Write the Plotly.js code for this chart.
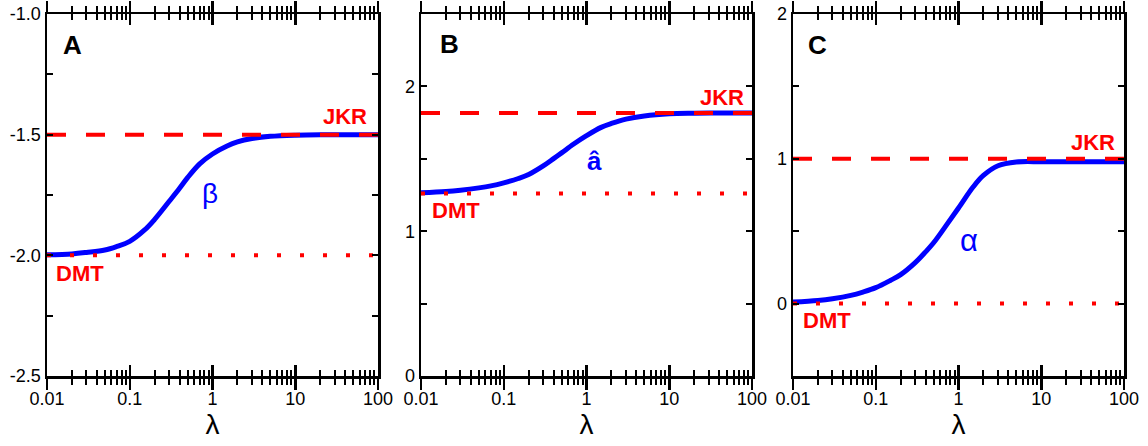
<!DOCTYPE html>
<html>
<head>
<meta charset="utf-8">
<script src="https://cdn.plot.ly/plotly-3.0.1.min.js"></script>
<style>
  html, body { margin: 0; padding: 0; background: #fff; }
  #chart { width: 1148px; height: 446px; }
</style>
</head>
<body>
<div id="chart"></div>
<script>
// Transition parameter lambda (log axis, shared by all three panels)
const lambda = [0.01, 0.02, 0.03, 0.05, 0.07, 0.1, 0.15, 0.2, 0.3, 0.4, 0.5, 0.7, 1, 1.5, 2, 3, 5, 10, 20, 50, 100];
const lambdaEnds = [0.01, 100];

// Panel A: beta
const beta = [-1.998, -1.994, -1.988, -1.978, -1.963, -1.942, -1.896, -1.851, -1.776, -1.722, -1.678, -1.621, -1.580, -1.547, -1.530, -1.516, -1.507, -1.502, -1.500, -1.500, -1.500];
// Panel B: a-hat
const aHat = [1.265, 1.274, 1.283, 1.299, 1.313, 1.334, 1.364, 1.392, 1.451, 1.501, 1.541, 1.602, 1.660, 1.717, 1.744, 1.774, 1.796, 1.811, 1.815, 1.817, 1.817];
// Panel C: alpha
const alpha = [0.011, 0.022, 0.034, 0.057, 0.080, 0.110, 0.160, 0.200, 0.283, 0.357, 0.420, 0.535, 0.660, 0.805, 0.885, 0.952, 0.978, 0.980, 0.980, 0.980, 0.980];

// Limiting values (JKR dashed, DMT dotted)
const jkrLimit = [-1.5, 1.817, 1.0];
const dmtLimit = [-2.0, 1.26, 0.0];

// y tick values and labels
const yTickVals = [[-2.5, -2.0, -1.5, -1.0], [0, 1, 2], [0, 1, 2]];
const yTickText = [['-2.5', '-2.0', '-1.5', '-1.0'], ['0', '1', '2'], ['0', '1', '2']];
const yRanges = [[-2.5, -1.0], [0, 2.5], [-0.5, 2]];
const yMinor = [0.25, 0.5, 0.5];

const panelLetters = ['A', 'B', 'C'];
const curveLabels = ['β', 'â', 'α'];
const curves = [beta, aHat, alpha];

const W = 1148, H = 446;
const px = x => x / W;
const py = y => 1 - y / H;

// plot-area pixel bounds for the three panels
const boxes = [[47, 378], [421, 752], [793, 1124]];
const plotTop = 14, plotBottom = 376;

const FONT = 'Arial, "Liberation Sans", sans-serif';
const BLUE = '#0000ff';
const RED = '#ff0000';

const traces = [];
const layout = {
  width: W, height: H,
  margin: {l: 0, r: 0, t: 0, b: 0},
  paper_bgcolor: '#fff', plot_bgcolor: '#fff',
  showlegend: false,
  font: {family: FONT, color: '#000', size: 18},
  annotations: []
};

for (let i = 0; i < 3; i++) {
  const n = i + 1;
  const xa = n === 1 ? 'x' : 'x' + n;
  const ya = n === 1 ? 'y' : 'y' + n;
  const ov = 'x' + (n + 3);

  traces.push({
    x: lambda, y: curves[i], xaxis: xa, yaxis: ya, mode: 'lines',
    line: {color: BLUE, width: 5, shape: 'spline', smoothing: 1}, hoverinfo: 'skip'
  });
  traces.push({
    x: lambdaEnds, y: [jkrLimit[i], jkrLimit[i]], xaxis: xa, yaxis: ya, mode: 'lines',
    line: {color: RED, width: 4, dash: '19px,20px'}, hoverinfo: 'skip'
  });
  traces.push({
    x: lambdaEnds, y: [dmtLimit[i], dmtLimit[i]], xaxis: xa, yaxis: ya, mode: 'lines',
    line: {color: RED, width: 4, dash: '4px,19px'}, hoverinfo: 'skip'
  });
  // empty trace so the inward-tick overlay axis gets its own subplot
  traces.push({x: [], y: [], xaxis: ov, yaxis: ya, mode: 'lines', hoverinfo: 'skip'});

  const dom = [px(boxes[i][0]), px(boxes[i][1])];
  const common = {
    type: 'log', range: [-2, 2], fixedrange: true,
    showgrid: false, zeroline: false
  };
  layout['xaxis' + (n === 1 ? '' : n)] = Object.assign({}, common, {
    domain: dom, anchor: ya,
    showline: true, linewidth: 2.5, linecolor: '#000', mirror: 'ticks',
    ticks: 'outside', ticklen: 11, tickwidth: 2.5, tickcolor: '#000', dtick: 1,
    minor: {ticks: 'outside', ticklen: 6, tickwidth: 2, tickcolor: '#000', dtick: 'D1', showgrid: false},
    tickfont: {family: FONT, size: 18, color: '#000'},
    ticklabelstandoff: -6,
    title: {text: 'λ', font: {family: FONT, size: 28, color: '#000'}, standoff: 0}
  });
  layout['xaxis' + (n + 3)] = Object.assign({}, common, {
    overlaying: xa, anchor: ya, side: 'bottom',
    showline: false, mirror: 'ticks',
    ticks: 'inside', ticklen: 11, tickwidth: 2.5, tickcolor: '#000', dtick: 1,
    minor: {ticks: 'inside', ticklen: 6, tickwidth: 2, tickcolor: '#000', dtick: 'D1', showgrid: false},
    showticklabels: false
  });
  layout['yaxis' + (n === 1 ? '' : n)] = {
    domain: [py(plotBottom), py(plotTop)], anchor: xa,
    range: yRanges[i], fixedrange: true,
    showgrid: false, zeroline: false,
    showline: true, linewidth: 2.5, linecolor: '#000', mirror: 'ticks',
    ticks: 'inside', ticklen: 6, tickwidth: 2, tickcolor: '#000',
    tickmode: 'array', tickvals: yTickVals[i], ticktext: yTickText[i],
    minor: {ticks: 'inside', ticklen: 6, tickwidth: 2, tickcolor: '#000', tick0: 0, dtick: yMinor[i], showgrid: false},
    tickfont: {family: FONT, size: 18, color: '#000'}
  };
}

// text labels: panel letter, JKR, DMT, curve symbol
const letterPos = [[72, 45], [449, 44], [817, 45]];
const jkrPos = [[345, 117], [722, 98], [1093, 143]];
const dmtPos = [[80, 273], [456, 211], [827, 320]];
const symPos = [[210, 194], [594, 161], [969, 240]];
const symSize = [28, 26, 31];

function label(text, pos, color, size, bold) {
  layout.annotations.push({
    xref: 'paper', yref: 'paper', x: px(pos[0]), y: py(pos[1]),
    xanchor: 'center', yanchor: 'middle', showarrow: false,
    text: bold ? '<b>' + text + '</b>' : text,
    font: {family: FONT, size: size, color: color}
  });
}
for (let i = 0; i < 3; i++) {
  label(panelLetters[i], letterPos[i], '#000', 26, true);
  label('JKR', jkrPos[i], RED, 22, true);
  label('DMT', dmtPos[i], RED, 22, true);
  label(curveLabels[i], symPos[i], BLUE, symSize[i], i === 1);
}

Plotly.newPlot('chart', traces, layout, {staticPlot: true, displayModeBar: false});
</script>
</body>
</html>
